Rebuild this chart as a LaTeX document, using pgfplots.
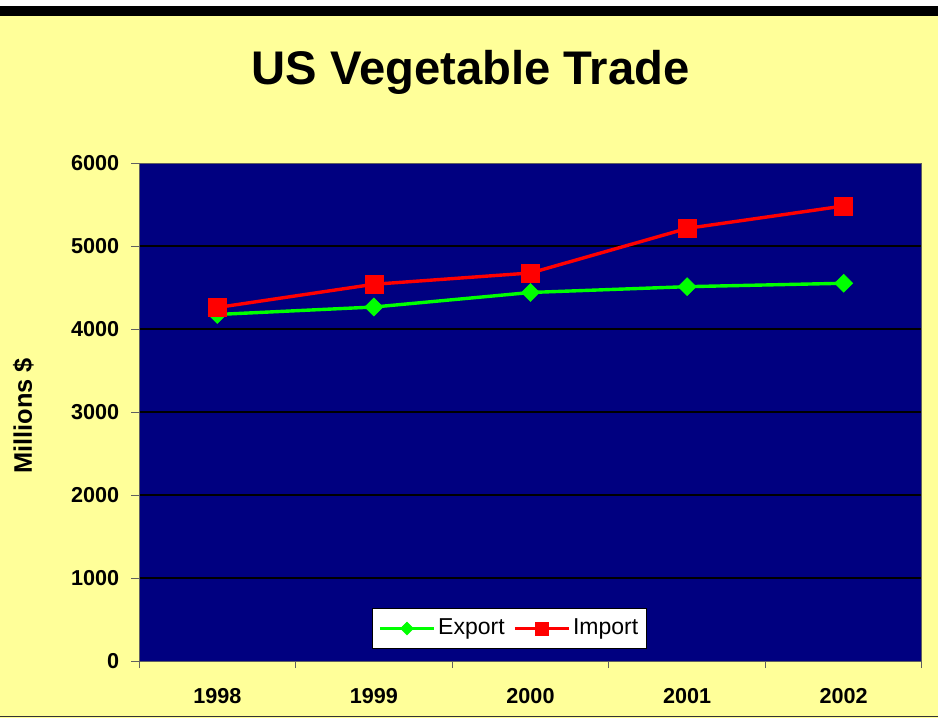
\documentclass[border=0pt]{standalone}
\usepackage{pgfplots}
\pgfplotsset{compat=1.18}
\usepackage{fontspec}
\setmainfont{Liberation Sans}
\definecolor{bgyellow}{HTML}{FFFF99}
\definecolor{navy}{HTML}{000080}
\definecolor{expgreen}{HTML}{00FF00}
\definecolor{impred}{HTML}{FF0000}
\definecolor{axgray}{HTML}{606060}
\begin{document}
\begin{tikzpicture}
\useasboundingbox (0,0) rectangle (469pt,359pt);
\fill[white] (0,0) rectangle (469pt,359pt);
\fill[bgyellow] (0,0) rectangle (469pt,351pt);
\fill[black] (0,351pt) rectangle (469pt,356pt);
\draw[black!80,line width=0.6pt] (0,0.8pt) -- (469pt,0.8pt);
\begin{axis}[
  at={(69.5pt,28.5pt)}, anchor=south west,
  scale only axis, width=391.5pt, height=249pt,
  xmin=0.5, xmax=5.5, ymin=0, ymax=6000,
  axis background/.style={fill=navy},
  axis line style={draw=axgray, line width=0.5pt},
  tick pos=left, tick align=outside,
  /pgf/number format/assume math mode=true,
  /pgf/number format/1000 sep={},
  ytick={1000,2000,3000,4000,5000},
  extra y ticks={0,6000},
  extra y tick style={grid=none},
  ymajorgrids, major grid style={black, line width=0.9pt},
  major tick length=4pt, minor tick length=3.5pt,
  tick style={draw=axgray, line width=0.5pt},
  xtick={1,2,3,4,5},
  xticklabels={1998,1999,2000,2001,2002},
  major x tick style={draw=none},
  minor xtick={0.5,1.5,2.5,3.5,4.5,5.5},
  ticklabel style={font=\bfseries\fontsize{10.8}{13}\selectfont},
  yticklabel style={xshift=-2.4pt},
  xticklabel style={yshift=-6.2pt},
  title={US Vegetable Trade},
  title style={at={(axis description cs:0.4234,1.1335)}, anchor=base, font=\bfseries\fontsize{23.6}{28}\selectfont},
  ylabel={Millions \$},
  ylabel style={at={(axis description cs:-0.1367,0.492)}, anchor=base, font=\bfseries\fontsize{12.7}{15}\selectfont},
  legend columns=2,
  legend style={at={(0.4732,0.0653)}, anchor=center, draw=black, fill=white,
    inner xsep=3pt, inner ysep=3.25pt,
    nodes={inner xsep=1.25pt, inner ysep=2pt},
    font=\fontsize{11.5}{13}\selectfont,
    /tikz/every even column/.append style={column sep=3pt}},
  legend image code/.code={\draw[mark repeat=2,mark phase=2,#1,every mark/.append style={scale=0.72}] plot coordinates {(0pt,0pt) (13.5pt,0pt) (27pt,0pt)};},
]
\addplot[color=expgreen, line width=1.7pt, mark=square*, mark size=3.18pt, mark options={rotate=45, fill=expgreen, draw=expgreen, line width=0.3pt}]
  coordinates {(1,4175) (2,4265) (3,4440) (4,4510) (5,4551)};
\addlegendentry{Export}
\addplot[color=impred, line width=1.7pt, mark=square*, mark size=4.5pt, mark options={fill=impred, draw=impred, line width=0.3pt}]
  coordinates {(1,4259) (2,4539) (3,4675) (4,5212) (5,5482)};
\addlegendentry{Import}
\end{axis}
\end{tikzpicture}
\end{document}
